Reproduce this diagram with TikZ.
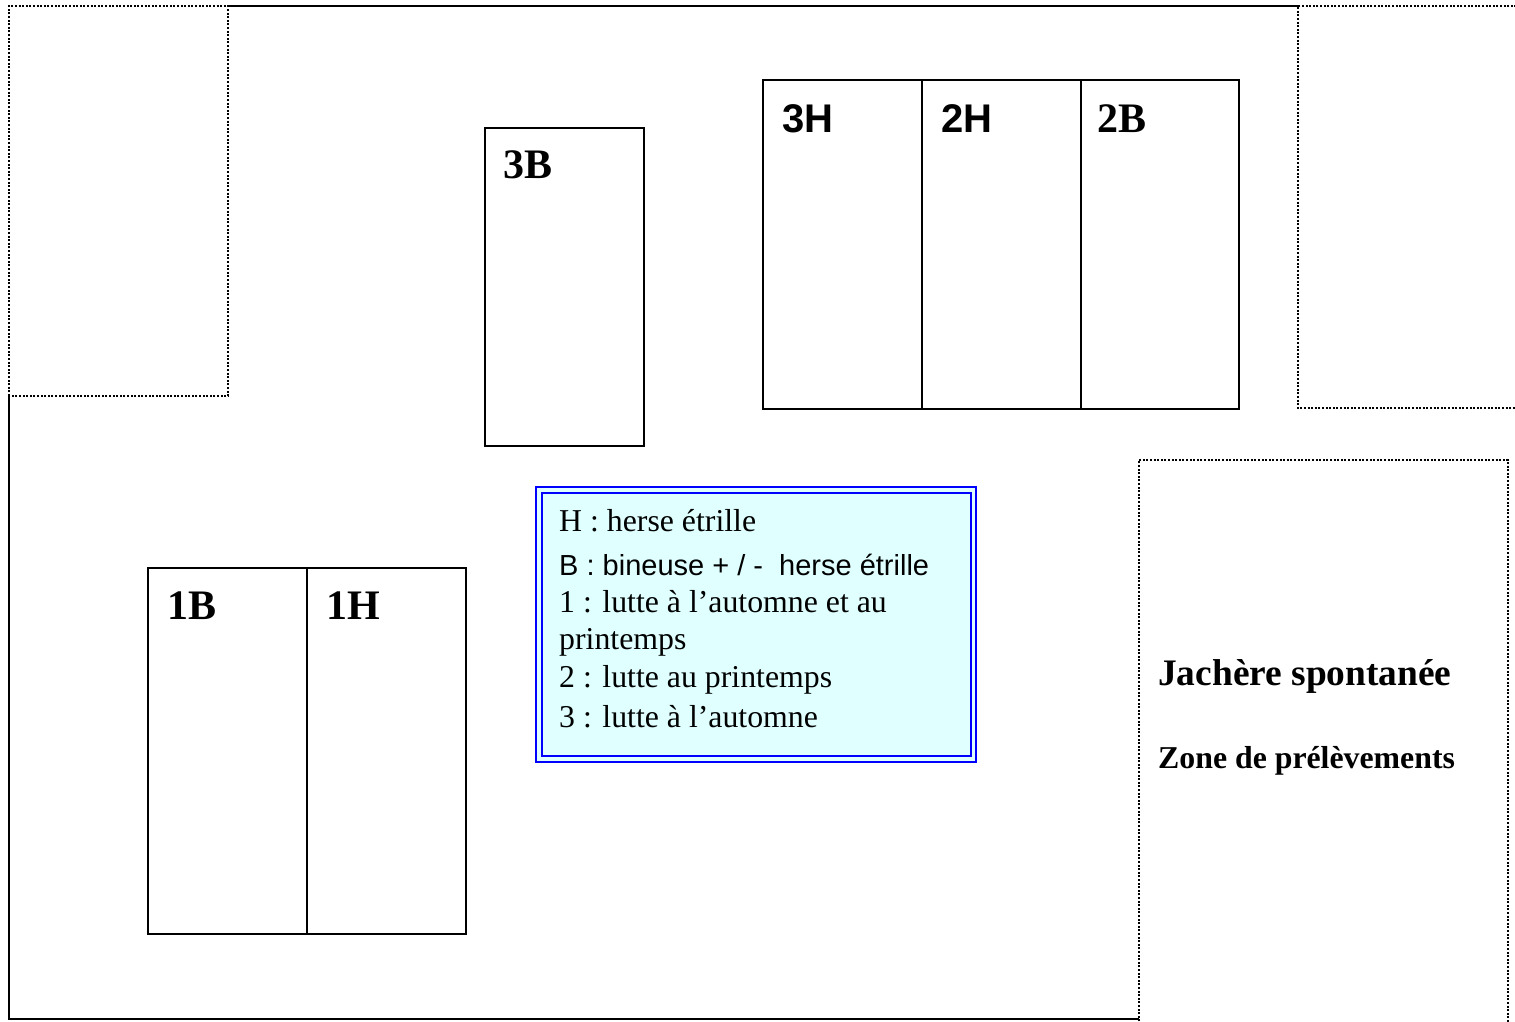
\documentclass[tikz,border=0pt]{standalone}
\usepackage{fontspec}
\setmainfont{Liberation Serif}
\newfontfamily\arialfont{Liberation Sans}
\definecolor{legfill}{RGB}{224,255,255}
\definecolor{legblue}{RGB}{0,0,255}
\begin{document}
\begin{tikzpicture}[x=1pt,y=-1pt,
  solidline/.style={line width=2.2pt,black},
  dotline/.style={line width=2pt,black,dash pattern=on 2pt off 1.6pt},
  plotbox/.style={line width=2.2pt,black},
  lab/.style={anchor=base west,inner sep=0pt,font=\fontsize{42}{50}\selectfont\bfseries},
  labsans/.style={anchor=base west,inner sep=0pt,font=\fontsize{40}{48}\selectfont\arialfont\bfseries},
  legtxt/.style={anchor=base west,inner sep=0pt,font=\fontsize{31.8}{38}\selectfont},
  legsans/.style={anchor=base west,inner sep=0pt,font=\fontsize{29}{35}\selectfont\arialfont},
  zonetxt/.style={anchor=base west,inner sep=0pt,font=\bfseries}
]
\useasboundingbox (0,0) rectangle (1515,1021);
\fill[white] (0,0) rectangle (1515,1021);

% outer field boundary (solid parts)
\draw[solidline] (228,6) -- (1298,6);
\draw[solidline] (9,396) -- (9,1019) -- (1139,1019);

% dotted zones
\draw[dotline] (9,396) -- (9,6) -- (228,6) -- (228,396) -- cycle;
\draw[dotline] (1520,6) -- (1298,6) -- (1298,408) -- (1520,408);
\draw[dotline] (1139,1025) -- (1139,460) -- (1508,460) -- (1508,1025);

% plots
\draw[plotbox] (485,128) rectangle (644,446);
\draw[plotbox] (763,80) rectangle (1239,409);
\draw[plotbox] (922,80) -- (922,409);
\draw[plotbox] (1081,80) -- (1081,409);
\draw[plotbox] (148,568) rectangle (466,934);
\draw[plotbox] (307,568) -- (307,934);

% plot labels
\node[lab] (l3B) at (503,178) {3B};
\node[labsans] (l3H) at (782,132) {3H};
\node[labsans] (l2H) at (941,132) {2H};
\node[lab] (l2B) at (1097,132) {2B};
\node[lab] (l1B) at (167,619) {1B};
\node[lab] (l1H) at (326,619) {1H};

% legend box
\fill[legfill] (536,487) rectangle (976,762);
\draw[legblue,line width=2.2pt] (536,487) rectangle (976,762);
\draw[legblue,line width=2pt] (542,493) rectangle (971,756);
\node[legtxt] (lg1) at (559,531) {H : herse étrille};
\node[legsans] (lg2) at (559,575) {B : bineuse + / -\ \ herse étrille};
\node[legtxt] (lg3) at (559,612) {1 : lutte à l’automne et au};
\node[legtxt] (lg4) at (559,649) {printemps};
\node[legtxt] (lg5) at (559,687) {2 : lutte au printemps};
\node[legtxt] (lg6) at (559,727) {3 : lutte à l’automne};

% fallow zone labels
\node[zonetxt,font=\fontsize{37.4}{44}\selectfont\bfseries] (jach) at (1158,685) {Jachère spontanée};
\node[zonetxt,font=\fontsize{31.8}{38}\selectfont\bfseries] (zone) at (1158,768) {Zone de prélèvements};
\end{tikzpicture}
\end{document}
